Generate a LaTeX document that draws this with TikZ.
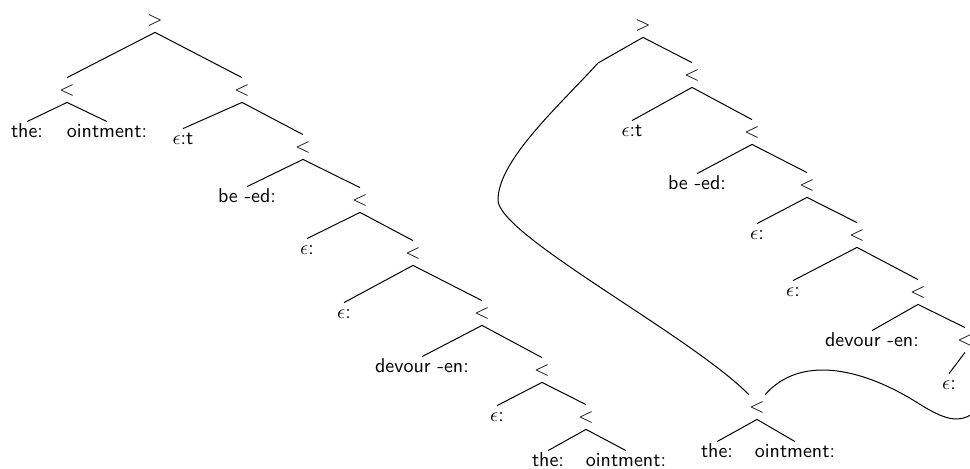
\documentclass[tikz,border=0pt]{standalone}
\usepackage{amsmath,amssymb}
\usepackage{tikz}
\usetikzlibrary{positioning,calc}

\begin{document}
\begin{tikzpicture}[x=0.5pt, y=-0.5pt,
      op/.style={inner sep=0pt, minimum height=12pt},
      wd/.style={font=\sffamily, inner sep=0pt, text height=6pt,
                 text depth=1.5pt, minimum height=11pt},
      edge/.style={line width=0.5pt},
      mv/.style={line width=0.5pt}
    ]
      \useasboundingbox (0,0) rectangle (970,468);
      \clip (0,0) rectangle (970,468);

      % Left tree
      \node[op] (L0) at (155, 20) {$>$};
      \node[op] (La) at (67, 90) {$<$};
      \node[wd] (Lthe) at (27, 133) {the:};
      \node[wd] (Loint) at (107, 133) {ointment:};
      \node[op] (L1) at (242, 90) {$<$};
      \node[wd] (Leps1) at (183, 140) {$\epsilon$:t};
      \node[op] (L2) at (303, 147) {$<$};
      \node[wd] (Lbe) at (247, 198) {be -ed:};
      \node[op] (L3) at (360, 200) {$<$};
      \node[wd] (Leps2) at (307, 250) {$\epsilon$:};
      \node[op] (L4) at (413, 253) {$<$};
      \node[wd] (Leps3) at (344, 314) {$\epsilon$:};
      \node[op] (L5) at (482, 313) {$<$};
      \node[wd] (Ldev) at (422, 368) {devour -en:};
      \node[op] (L6) at (542, 370) {$<$};
      \node[wd] (Leps4) at (497, 417) {$\epsilon$:};
      \node[op] (L7) at (586, 417) {$<$};
      \node[wd] (Lthe2) at (548, 462) {the:};
      \node[wd] (Loint2) at (626, 462) {ointment:};

      % Right tree
      \node[op] (R0) at (643, 25) {$>$};
      \coordinate (Rgap) at (598, 63);
      \node[op] (R1) at (692, 75) {$<$};
      \node[wd] (Reps1) at (632, 132) {$\epsilon$:t};
      \node[op] (R2) at (752, 132) {$<$};
      \node[wd] (Rbe) at (697, 185) {be -ed:};
      \node[op] (R3) at (807, 185) {$<$};
      \node[wd] (Reps2) at (757, 235) {$\epsilon$:};
      \node[op] (R4) at (857, 235) {$<$};
      \node[wd] (Reps3) at (793, 292) {$\epsilon$:};
      \node[op] (R5) at (918, 292) {$<$};
      \node[wd] (Rdev) at (872, 342) {devour -en:};
      \node[op] (R6) at (965, 340) {$<$};
      \node[wd] (Reps4) at (949, 385) {$\epsilon$:};
      \coordinate (Rtr) at (990, 395);

      % moved subtree
      \node[op] (Rmv) at (757, 407) {$<$};
      \node[wd] (Rthe) at (717, 453) {the:};
      \node[wd] (Roint) at (795, 453) {ointment:};

      % Edges
      \draw[edge] (L0.south) -- (La.north) (L0.south) -- (L1.north);
      \draw[edge] (La.south) -- (Lthe.north) (La.south) -- (Loint.north);
      \draw[edge] (L1.south) -- (Leps1.north) (L1.south) -- (L2.north);
      \draw[edge] (L2.south) -- (Lbe.north) (L2.south) -- (L3.north);
      \draw[edge] (L3.south) -- (Leps2.north) (L3.south) -- (L4.north);
      \draw[edge] (L4.south) -- (Leps3.north) (L4.south) -- (L5.north);
      \draw[edge] (L5.south) -- (Ldev.north) (L5.south) -- (L6.north);
      \draw[edge] (L6.south) -- (Leps4.north) (L6.south) -- (L7.north);
      \draw[edge] (L7.south) -- (Lthe2.north) (L7.south) -- (Loint2.north);

      \draw[edge] (R0.south) -- (R1.north);
      \draw[edge] (R1.south) -- (Reps1.north) (R1.south) -- (R2.north);
      \draw[edge] (R2.south) -- (Rbe.north) (R2.south) -- (R3.north);
      \draw[edge] (R3.south) -- (Reps2.north) (R3.south) -- (R4.north);
      \draw[edge] (R4.south) -- (Reps3.north) (R4.south) -- (R5.north);
      \draw[edge] (R5.south) -- (Rdev.north) (R5.south) -- (R6.north);
      \draw[edge] (R6.south) -- (Reps4.north);
      \draw[edge] (Rmv.south) -- (Rthe.north) (Rmv.south) -- (Roint.north);

      % Movement lines
      \draw[mv] (R0.south) -- (Rgap)
        .. controls (560, 105) and (498, 160) .. (498, 200)
        .. controls (498, 235) and (690, 335) .. (Rmv.north west);
      \draw[mv] (Rmv.north east)
        .. controls (800, 355) and (860, 368) .. (913, 400)
        .. controls (945, 420) and (965, 432) .. (Rtr);
    \end{tikzpicture}
\end{document}
